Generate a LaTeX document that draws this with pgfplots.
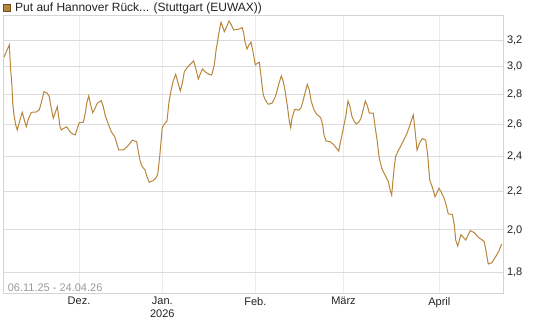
\documentclass[border=0pt]{standalone}
\usepackage{fontspec}
\setmainfont{Liberation Sans}
\usepackage{pgfplots}
\pgfplotsset{compat=1.18}
\definecolor{linecol}{HTML}{B8863B}
\definecolor{sqborder}{HTML}{6B4E23}
\definecolor{hgrid}{HTML}{DCDCDC}
\definecolor{vgrid}{HTML}{ECECEC}
\definecolor{bordercol}{HTML}{D4D4D4}
\definecolor{labelcol}{HTML}{222222}
\definecolor{datecol}{HTML}{9A9A9A}
\begin{document}
\begin{tikzpicture}
\useasboundingbox (0,0) rectangle (545pt,327pt);
\begin{axis}[
  at={(3pt,34pt)}, anchor=south west,
  scale only axis, width=500.3pt, height=277pt,
  xmin=3, xmax=503.3,
  ymode=log, ymin=1.7105, ymax=3.401,
  axis line style={draw=bordercol, line width=1pt},
  xtick={79,162.3,255.3,343.5,439.3},
  xticklabels={Dez.,{Jan.\\2026},Feb.,März,April},
  ytick={1.8,2.0,2.2,2.4,2.6,2.8,3.0,3.2},
  yticklabels={{1,8},{2,0},{2,2},{2,4},{2,6},{2,8},{3,0},{3,2}},
  minor ytick={}, minor xtick={},
  yticklabel pos=right,
  major tick length=0pt, minor tick length=0pt,
  xmajorgrids, ymajorgrids,
  every axis x grid/.style={draw=vgrid, line width=1pt},
  every axis y grid/.style={draw=hgrid, line width=1pt},
  major grid style={line width=1pt},
  tick label style={font=\fontsize{11}{13}\selectfont, text=labelcol},
  xticklabel style={align=center, anchor=north, inner sep=0pt, yshift=-4pt},
  yticklabel style={anchor=west, inner sep=0pt, xshift=3.5pt},
  /pgf/number format/assume math mode=true,
  clip=true,
]
\addplot[linecol, line width=1pt, mark=none] table[x=x, y=y] {
x y
4 3.070
6.7 3.121
9.3 3.165
10.7 2.975
12 2.854
12.7 2.741
14 2.661
15.7 2.595
17.3 2.563
20 2.628
22.3 2.678
24.3 2.628
26.3 2.584
28.3 2.632
31.3 2.678
36 2.680
39.3 2.694
41.3 2.743
44 2.819
47.3 2.808
49.3 2.784
51.3 2.705
53.3 2.639
55.3 2.676
57.3 2.716
58.7 2.649
60 2.584
61.3 2.563
63.3 2.572
66.7 2.584
70 2.551
72.7 2.538
75.3 2.532
77.3 2.574
79.3 2.610
83.3 2.613
85.3 2.672
86.7 2.739
88.7 2.789
90.7 2.727
92.7 2.676
94.7 2.700
97.3 2.739
101.3 2.757
103.3 2.716
105.3 2.654
108.7 2.595
111.3 2.552
114.7 2.521
116.7 2.480
118.7 2.439
123.3 2.439
126.7 2.456
130 2.480
132.3 2.499
136.7 2.490
138.3 2.429
140.3 2.369
142.3 2.340
145 2.321
147 2.283
149.3 2.251
153 2.260
155.7 2.274
157.7 2.296
159.7 2.399
161 2.490
162.3 2.580
165 2.606
167 2.621
169 2.750
171 2.824
173 2.890
175.7 2.943
177.7 2.890
180.3 2.824
182.3 2.878
184.3 2.962
187 2.992
190.3 3.017
193.7 3.042
195.7 2.987
198.3 2.909
202.3 2.982
205.7 2.958
209 2.943
211.7 2.938
214.3 3.012
216.3 3.139
217.7 3.197
219 3.267
221 3.349
222.3 3.321
224.3 3.271
226.3 3.304
229 3.359
231 3.332
233.7 3.285
238.3 3.291
242.3 3.304
243.7 3.258
245 3.191
247 3.134
249 3.165
251 3.187
253 3.113
255.3 3.012
257.3 3.025
259.3 3.032
260.7 2.951
262 2.866
263.3 2.796
265.3 2.761
268.3 2.732
272 2.739
274.7 2.773
276.7 2.815
278.7 2.871
281.3 2.931
283.3 2.890
285.3 2.815
287.3 2.723
289.3 2.621
290.7 2.578
292 2.639
294.7 2.698
298.7 2.692
300.7 2.705
302.7 2.746
304.7 2.801
307.3 2.871
309.3 2.831
311.3 2.750
314 2.694
316.7 2.665
320.7 2.643
322.7 2.595
324 2.532
326 2.494
330 2.490
333.3 2.474
336 2.453
338.7 2.433
340.7 2.494
343.3 2.574
346 2.661
348 2.755
350 2.716
352 2.649
354 2.621
356 2.602
358.7 2.613
360.7 2.634
362.7 2.682
365.3 2.755
367.3 2.723
369.3 2.672
373.3 2.672
375.3 2.574
377 2.505
379 2.399
381.7 2.331
385 2.292
388.3 2.255
390.3 2.205
391.7 2.181
393 2.264
394.3 2.340
395.7 2.403
399 2.443
403 2.490
407 2.542
410.3 2.602
413.3 2.661
415 2.563
417 2.439
419.7 2.484
422.3 2.509
425.7 2.500
427.7 2.409
429.7 2.264
432.3 2.224
435 2.172
437 2.194
439 2.218
441 2.199
443.7 2.169
445.7 2.137
448.3 2.081
452.3 2.079
454.3 2.025
455.7 1.951
457.7 1.922
461 1.977
465.7 1.951
470.3 1.997
474.3 1.987
478.3 1.964
482.3 1.951
484.3 1.943
488.3 1.838
491.7 1.844
495.7 1.872
499 1.900
501.7 1.932
};
\node[anchor=base west, inner sep=0pt, font=\fontsize{11}{13}\selectfont, text=datecol]
  at (rel axis cs:0,0) [xshift=4.6pt, yshift=2pt] {06.11.25 - 24.04.26};
\end{axis}
\filldraw[fill=linecol, draw=sqborder, line width=0.8pt] (3pt,315.5pt) rectangle (10.5pt,323pt);
\node[anchor=base west, inner sep=0pt, font=\fontsize{12}{14}\selectfont, text=labelcol]
  at (15pt,315pt) {Put auf Hannover Rück... (Stuttgart (EUWAX))};
\end{tikzpicture}
\end{document}
